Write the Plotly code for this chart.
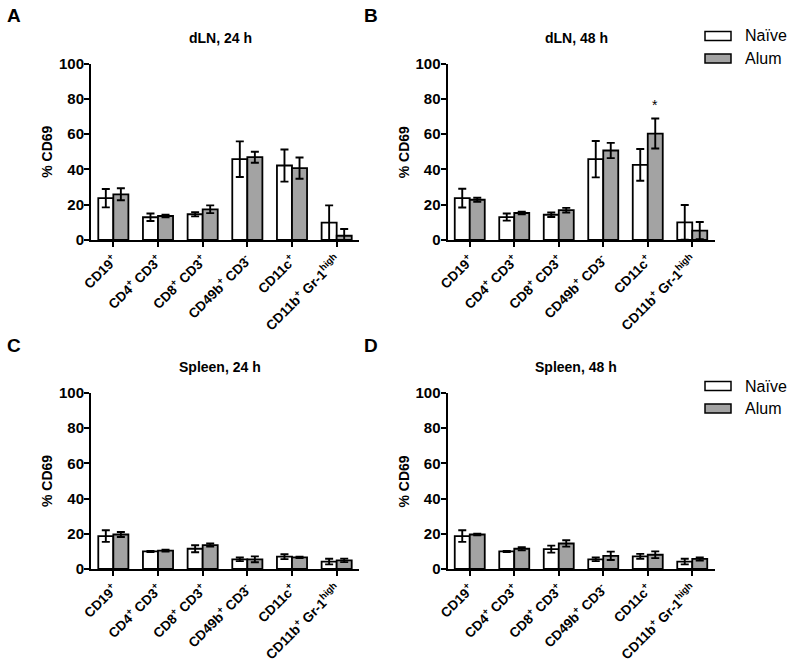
import plotly.graph_objects as go

W, H = 791, 661

categories = ["CD19<sup>+</sup>", "CD4<sup>+</sup> CD3<sup>+</sup>", "CD8<sup>+</sup> CD3<sup>+</sup>",
              "CD49b<sup>+</sup> CD3<sup>-</sup>", "CD11c<sup>+</sup>", "CD11b<sup>+</sup> Gr-1<sup>high</sup>"]
y_ticks = [0, 20, 40, 60, 80, 100]
groups = ["Naïve", "Alum"]
panel_titles = ["dLN, 24 h", "dLN, 48 h", "Spleen, 24 h", "Spleen, 48 h"]
panel_letters = ["A", "B", "C", "D"]

# dLN 24 h
dln24_naive = [23.7, 12.9, 14.6, 45.8, 42.2, 9.8]
dln24_naive_err = [5.2, 2.1, 1.2, 10.1, 9.1, 9.8]
dln24_alum = [25.9, 13.6, 17.4, 46.9, 40.7, 2.4]
dln24_alum_err = [3.4, 0.8, 2.2, 3.1, 6.0, 3.8]
# dLN 48 h
dln48_naive = [23.7, 13.0, 14.3, 45.8, 42.6, 10.0]
dln48_naive_err = [5.3, 2.0, 1.3, 10.3, 9.0, 9.8]
dln48_alum = [22.8, 15.3, 16.9, 50.7, 60.3, 5.3]
dln48_alum_err = [1.1, 0.7, 1.3, 4.3, 8.5, 4.9]
# Spleen 24 h
spl24_naive = [18.7, 10.0, 11.5, 5.5, 7.0, 4.2]
spl24_naive_err = [3.3, 0.3, 2.0, 1.0, 1.4, 1.6]
spl24_alum = [19.6, 10.4, 13.6, 5.5, 6.6, 4.9]
spl24_alum_err = [1.4, 0.5, 0.9, 1.7, 0.4, 1.0]
# Spleen 48 h
spl48_naive = [18.7, 10.0, 11.3, 5.5, 7.2, 4.2]
spl48_naive_err = [3.3, 0.3, 2.0, 1.0, 1.4, 1.6]
spl48_alum = [19.6, 11.5, 14.5, 7.5, 8.1, 5.7]
spl48_alum_err = [0.5, 0.9, 1.8, 2.4, 1.9, 0.9]

panels = [
    (dln24_naive, dln24_naive_err, dln24_alum, dln24_alum_err),
    (dln48_naive, dln48_naive_err, dln48_alum, dln48_alum_err),
    (spl24_naive, spl24_naive_err, spl24_alum, spl24_alum_err),
    (spl48_naive, spl48_naive_err, spl48_alum, spl48_alum_err),
]

# layout in pixels (left, right, top, bottom)
boxes = [(91, 359, 63.5, 240), (447.5, 714.5, 63.5, 240),
         (91, 359, 393, 569), (447.5, 714.5, 393, 569)]

FONT = "Arial, 'Liberation Sans', sans-serif"
fills = ["white", "#a3a3a3"]

fig = go.Figure()
annotations = []
shapes = []

for i, (vals, box) in enumerate(zip(panels, boxes)):
    n, ne, a, ae = vals
    xa = "x" if i == 0 else f"x{i+1}"
    ya = "y" if i == 0 else f"y{i+1}"
    for gi, (yv, ev) in enumerate([(n, ne), (a, ae)]):
        fig.add_trace(go.Bar(
            x=categories, y=yv, name=groups[gi], showlegend=False,
            xaxis=xa, yaxis=ya, offsetgroup=str(gi),
            marker=dict(color=fills[gi], line=dict(color="black", width=1.8)),
            error_y=dict(type="data", array=ev, visible=True, color="black",
                         thickness=1.9, width=4),
        ))
    l, r, t, b = box
    axkey = "" if i == 0 else str(i + 1)
    fig.layout[f"xaxis{axkey}"] = dict(
        domain=[l / W, r / W], anchor=ya, type="category", range=[-0.5, 5.5],
        showline=True, linecolor="black", linewidth=1.9, ticks="outside",
        ticklen=5, tickwidth=1.6, tickcolor="black", tickangle=-45,
        showgrid=False, zeroline=False, automargin=False,
        tickfont=dict(family=FONT, size=13.5, color="black", weight="bold"),
    )
    fig.layout[f"yaxis{axkey}"] = dict(
        domain=[1 - b / H, 1 - t / H], anchor=xa, range=[0, 100],
        tickvals=y_ticks, showline=True, linecolor="black", linewidth=1.9,
        ticks="outside", ticklen=5, tickwidth=1.6, tickcolor="black",
        showgrid=False, zeroline=False, automargin=False, ticklabelstandoff=-3,
        tickfont=dict(family=FONT, size=15, color="black", weight="bold"),
    )
    # panel title
    annotations.append(dict(
        text=f"<b>{panel_titles[i]}</b>", xref="paper", yref="paper",
        x=(l + (r - l) / 2 - 5) / W, y=1 - (t - 26) / H, showarrow=False,
        xanchor="center", yanchor="middle",
        font=dict(family=FONT, size=14, color="black")))
    # y axis title
    annotations.append(dict(
        text="<b>% CD69</b>", xref="paper", yref="paper",
        x=(l - 44) / W, y=1 - ((t + b) / 2) / H, showarrow=False, textangle=-90,
        xanchor="center", yanchor="middle",
        font=dict(family=FONT, size=14, color="black")))
    # panel letter
    annotations.append(dict(
        text=f"<b>{panel_letters[i]}</b>", xref="paper", yref="paper",
        x=(l - 86) / W, y=1 - (t - 48) / H, showarrow=False,
        xanchor="left", yanchor="middle",
        font=dict(family=FONT, size=19, color="black")))

# significance marker, panel B, CD11c Alum
annotations.append(dict(
    text="*", x=categories[4], y=dln48_alum[4] + dln48_alum_err[4], xref="x2", yref="y2",
    xshift=7.5, yshift=4, showarrow=False, yanchor="bottom",
    font=dict(family=FONT, size=14, color="black")))

# legends (panels B and D)
for ly in (36, 386):
    for gi in range(2):
        cy = ly + gi * 22.5
        shapes.append(dict(type="rect", xref="paper", yref="paper",
                           x0=705 / W, x1=731 / W, y0=1 - (cy - 4.5) / H, y1=1 - (cy + 4.5) / H,
                           fillcolor=fills[gi], line=dict(color="black", width=1.5)))
        annotations.append(dict(text=groups[gi], xref="paper", yref="paper",
                                x=743 / W, y=1 - cy / H, showarrow=False,
                                xanchor="left", yanchor="middle",
                                font=dict(family=FONT, size=16, color="black")))

fig.update_layout(
    width=W, height=H, margin=dict(l=0, r=0, t=0, b=0, autoexpand=False),
    paper_bgcolor="white", plot_bgcolor="white",
    barmode="group", bargap=0.326, bargroupgap=0,
    annotations=annotations, shapes=shapes, showlegend=False,
)

fig.write_html("out.html", config={"displayModeBar": False},
               post_script="document.body.style.margin='0';document.body.style.overflow='hidden';")
